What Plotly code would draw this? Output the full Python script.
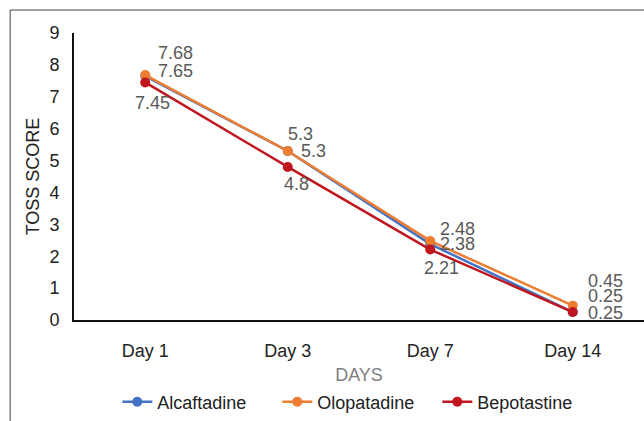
import plotly.graph_objects as go

days = ["Day 1", "Day 3", "Day 7", "Day 14"]
alcaftadine = [7.65, 5.3, 2.38, 0.25]
olopatadine = [7.68, 5.3, 2.48, 0.45]
bepotastine = [7.45, 4.8, 2.21, 0.25]
y_ticks = [0, 1, 2, 3, 4, 5, 6, 7, 8, 9]

series = [
    ("Alcaftadine", alcaftadine, "#4472C4"),
    ("Olopatadine", olopatadine, "#ED7D31"),
    ("Bepotastine", bepotastine, "#C0161E"),
]

# label offsets (style only): per series, per point (xshift, yshift) in px
label_offsets = {
    "Alcaftadine": [(11, 5), (11, 0), (8, 0), (13, -1)],
    "Olopatadine": [(11, 22), (-2, 17), (8, 12), (13, 25)],
    "Bepotastine": [(-12, -21), (-6, -17), (-8, -18), (13, 16)],
}

FONT = "Liberation Sans, Arial, sans-serif"
FS = 18

fig = go.Figure()
for name, vals, color in series:
    fig.add_trace(go.Scatter(
        x=days, y=vals, name=name, mode="lines+markers",
        line=dict(color=color, width=2.5),
        marker=dict(color=color, size=10),
    ))

annotations = []
for name, vals, color in series:
    for d, v, (dx, dy) in zip(days, vals, label_offsets[name]):
        annotations.append(dict(
            x=d, y=v, xref="x", yref="y", text=str(v), showarrow=False,
            xanchor="left", yanchor="middle", xshift=dx, yshift=dy,
            font=dict(family=FONT, size=FS, color="#595959"),
        ))

fig.update_layout(
    width=644, height=421,
    margin=dict(l=74, r=0, t=33, b=101, autoexpand=False),
    paper_bgcolor="white", plot_bgcolor="white",
    font=dict(family=FONT, size=FS, color="#222222"),
    showlegend=True,
    legend=dict(orientation="h", x=0.497, xanchor="center", y=-0.286, yanchor="middle",
                font=dict(size=FS, color="#222222"), itemwidth=30,
                entrywidth=115, entrywidthmode="pixels",
                bgcolor="rgba(0,0,0,0)"),
    annotations=annotations,
    shapes=[
        dict(type="line", xref="paper", yref="paper", x0=-0.112, x1=1.0, y0=1.08, y1=1.08,
             line=dict(color="#404040", width=1)),
        dict(type="line", xref="paper", yref="paper", x0=-0.112, x1=-0.112, y0=1.08, y1=-0.36,
             line=dict(color="#404040", width=1)),
    ],
)

fig.update_xaxes(
    type="category", range=[-0.5, 3.5], showgrid=False,
    showline=True, linecolor="#111111", linewidth=2,
    ticks="", ticklabelstandoff=13,
    tickfont=dict(size=FS, color="#222222"),
    title=dict(text="DAYS", font=dict(size=FS, color="#7F7F7F"), standoff=9),
    automargin=False,
)
fig.update_yaxes(
    range=[0, 9], tickvals=y_ticks, showgrid=False, zeroline=False,
    showline=True, linecolor="#111111", linewidth=2,
    ticks="", ticklabelstandoff=9,
    tickfont=dict(size=FS, color="#222222"),
    title=dict(text="TOSS SCORE", font=dict(size=FS, color="#222222"), standoff=5),
    automargin=False,
)

fig.write_html("out.html", config={"displayModeBar": False},
               post_script="document.body.style.margin='0';")
